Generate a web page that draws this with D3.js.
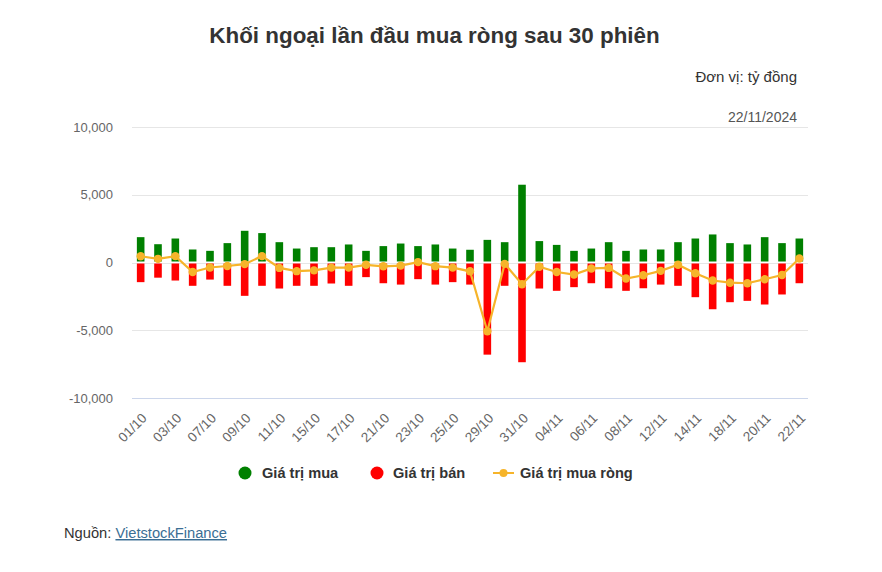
<!DOCTYPE html>
<html><head><meta charset="utf-8">
<script src="https://cdn.jsdelivr.net/npm/d3@7"></script>
<style>
html,body{margin:0;padding:0;background:#fff;}
svg{display:block;font-family:"Liberation Sans",Arial,sans-serif;}
</style></head>
<body>
<svg id="chart" width="882" height="572"></svg>
<script>
const categories = ["01/10","02/10","03/10","04/10","07/10","08/10","09/10","10/10","11/10","14/10",
 "15/10","16/10","17/10","18/10","21/10","22/10","23/10","24/10","25/10","28/10",
 "29/10","30/10","31/10","01/11","04/11","05/11","06/11","07/11","08/11","11/11",
 "12/11","13/11","14/11","15/11","18/11","19/11","20/11","21/11","22/11"];
const buyValues = [1870,1350,1770,960,860,1430,2340,2170,1500,1030,
 1130,1130,1330,860,1210,1400,1210,1330,1030,940,
 1670,1500,5740,1580,1300,860,1030,1500,860,960,
 960,1500,1770,2070,1430,1330,1870,1430,1770];
const sellValues = [-1450,-1120,-1330,-1720,-1260,-1720,-2460,-1720,-1920,-1720,
 -1720,-1550,-1720,-1080,-1530,-1630,-1230,-1630,-1450,-1630,
 -6800,-1720,-7360,-1920,-2090,-1820,-1530,-1900,-2090,-1900,
 -1630,-1720,-2560,-3450,-2930,-2830,-3100,-2360,-1530];
const netValues = [460,270,470,-700,-370,-260,-120,470,-400,-640,
 -580,-380,-380,-170,-280,-230,30,-270,-380,-650,
 -5070,-100,-1600,-310,-700,-890,-440,-400,-1180,-940,
 -620,-170,-790,-1330,-1490,-1530,-1240,-920,300];
const yTicks = [-10000,-5000,0,5000,10000];
const xTickLabels = categories.filter((d,i)=>i%2===0);
const seriesNames = ["Giá trị mua","Giá trị bán","Giá trị mua ròng"];
const colors = {buy:"#008000", sell:"#ff0000", net:"#f6b42a"};

const svg = d3.select("#chart");
const plot = {left:132, right:808, top:127, bottom:398};

svg.append("text").attr("x",434.5).attr("y",43).attr("text-anchor","middle")
  .attr("font-size",22.4).attr("font-weight","bold").attr("fill","#333")
  .text("Khối ngoại lần đầu mua ròng sau 30 phiên");
svg.append("text").attr("x",797).attr("y",82).attr("text-anchor","end")
  .attr("font-size",15).attr("fill","#333").text("Đơn vị: tỷ đồng");
svg.append("text").attr("x",797).attr("y",122).attr("text-anchor","end")
  .attr("font-size",14).attr("fill","#555").text("22/11/2024");

const x = d3.scaleBand().domain(categories).range([plot.left, plot.right]).paddingInner(0).paddingOuter(0);
const y = d3.scaleLinear().domain([-10000,10000]).range([plot.bottom, plot.top]);

// gridlines
svg.append("g").selectAll("line").data(yTicks).join("line")
  .attr("x1",plot.left).attr("x2",plot.right)
  .attr("y1",d=>Math.round(y(d))+0.5).attr("y2",d=>Math.round(y(d))+0.5)
  .attr("stroke",d=>d===-10000?"#ccd6eb":"#e6e6e6").attr("stroke-width",1);

// y axis labels
const yAxis = d3.axisLeft(y).tickValues(yTicks).tickSize(0).tickPadding(0)
  .tickFormat(d=>d3.format(",")(d).replace("\u2212","-"));
const ya = svg.append("g").attr("transform",`translate(113,0)`).call(yAxis);
ya.select(".domain").remove();
ya.selectAll("text").attr("font-size",13).attr("fill","#666").attr("font-family","Liberation Sans, Arial, sans-serif");

// x axis labels
const xAxis = d3.axisBottom(x).tickValues(xTickLabels).tickSize(0).tickPadding(0);
const xa = svg.append("g").attr("transform",`translate(0,${plot.bottom})`).call(xAxis);
xa.select(".domain").remove();
xa.selectAll("text").attr("font-size",13.5).attr("fill","#666")
  .attr("font-family","Liberation Sans, Arial, sans-serif")
  .attr("text-anchor","end").attr("dy",null)
  .attr("transform","translate(7,21) rotate(-45)");

const bw = 7.6;
const cx = d => x(d) + x.bandwidth()/2;
// buy bars
svg.append("g").selectAll("rect").data(categories).join("rect")
  .attr("x",(d)=>cx(d)-bw/2).attr("width",bw)
  .attr("y",(d,i)=>y(buyValues[i])).attr("height",(d,i)=>Math.max(0,y(0)-y(buyValues[i])-1))
  .attr("fill",colors.buy);
// sell bars
svg.append("g").selectAll("rect").data(categories).join("rect")
  .attr("x",(d)=>cx(d)-bw/2).attr("width",bw)
  .attr("y",y(0)+1).attr("height",(d,i)=>Math.max(0,y(sellValues[i])-y(0)-1))
  .attr("fill",colors.sell);

// net line
const line = d3.line().x((d,i)=>cx(categories[i])).y(d=>y(d));
svg.append("path").datum(netValues).attr("d",line).attr("fill","none")
  .attr("stroke",colors.net).attr("stroke-width",2.2);
svg.append("g").selectAll("circle").data(netValues).join("circle")
  .attr("cx",(d,i)=>cx(categories[i])).attr("cy",d=>y(d)).attr("r",4.2)
  .attr("fill",colors.net);

// legend
const lg = svg.append("g").attr("font-size",14.6).attr("font-weight","bold").attr("fill","#333");
lg.append("circle").attr("cx",245).attr("cy",473).attr("r",6.5).attr("fill",colors.buy);
lg.append("text").attr("x",262).attr("y",478).text(seriesNames[0]);
lg.append("circle").attr("cx",377).attr("cy",473).attr("r",6.5).attr("fill",colors.sell);
lg.append("text").attr("x",393).attr("y",478).text(seriesNames[1]);
lg.append("line").attr("x1",493).attr("x2",514).attr("y1",473).attr("y2",473).attr("stroke",colors.net).attr("stroke-width",2);
lg.append("circle").attr("cx",503.5).attr("cy",473).attr("r",4).attr("fill",colors.net);
lg.append("text").attr("x",520).attr("y",478).text(seriesNames[2]);

// source
const src = svg.append("text").attr("x",64).attr("y",538).attr("font-size",14.7).attr("fill","#333");
src.append("tspan").text("Nguồn: ");
src.append("tspan").attr("fill","#3a6e94").attr("text-decoration","underline").text("VietstockFinance");
</script>
</body></html>
